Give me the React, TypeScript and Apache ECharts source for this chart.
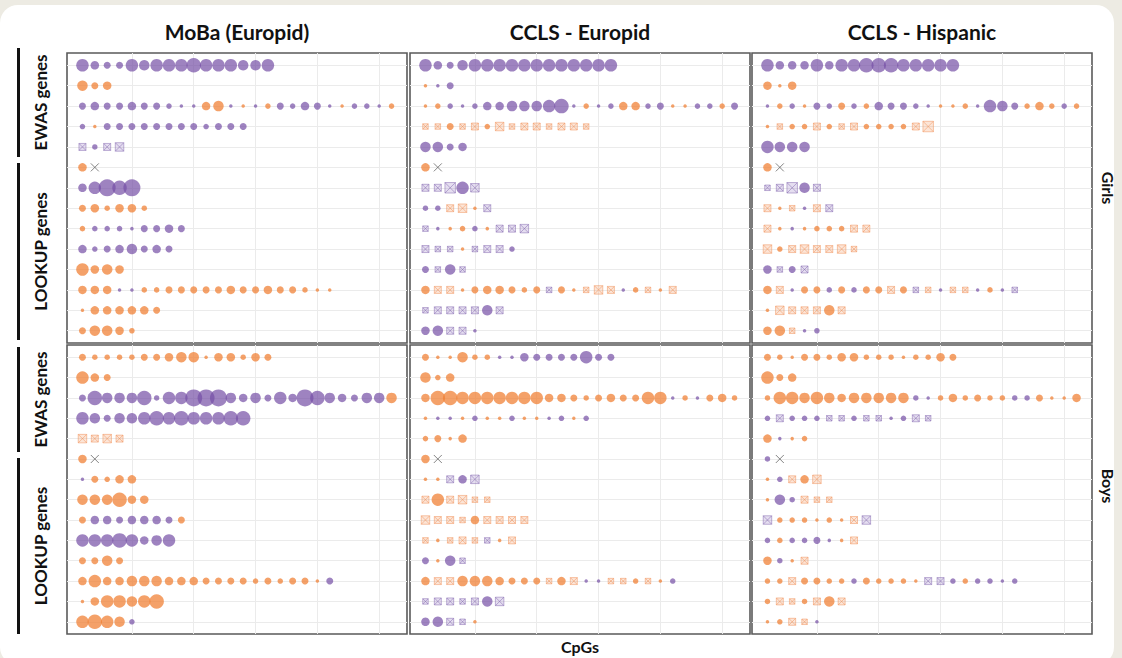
import React, { useEffect, useRef } from "react";
import * as echarts from "echarts";

// ---- Data ----
const columnTitles = ["MoBa (Europid)", "CCLS - Europid", "CCLS - Hispanic"];
const sexLabels = ["Girls", "Boys"];
const geneGroups = ["EWAS genes", "LOOKUP genes"];
const rowIds = [1, 2, 3, 4, 5, 6, 7, 8, 9, 10, 11, 12, 13, 14];
const xGridValues = [5, 10, 15, 20, 25];
// token: p = purple (sig), o = orange (sig), q = purple (n.s.), s = orange (n.s.), x = not available; digit = effect level
const girlsMoba = [
  "p6 p4 p3 p3 p6 p5 p6 p6 p6 p7 p6 p6 p6 p5 p5 p6",
  "o5 o3 o4",
  "p3 p4 p3 p3 p4 p3 p3 p2 p1 p1 o4 o5 p1 o1 p1 o2 p3 p2 p4 p3 p1 o1 p2 p2 p1 o2",
  "p2 o1 p3 p3 p3 p3 p3 p3 p3 p3 p2 p3 p3 p3",
  "q3 p2 q3 q4",
  "o4 x0",
  "p4 p6 p8 p7 p8",
  "o3 o4 o2 o4 o4 o2",
  "o2 p2 p2 p2 p1 p3 p3 p4 p3",
  "p4 p2 p3 p4 p5 p3 p4 p3",
  "o6 o4 o5 o4",
  "o4 o4 o4 p1 p1 o2 o2 o3 o3 o3 o3 o3 o4 o3 o3 o4 o3 o3 o2 o1 o1",
  "o1 o4 o4 o4 o4 o4 o3",
  "o3 o5 o5 o4 o2",
];
const girlsEuropid = [
  "p6 p4 p3 p5 p6 p6 p6 p6 p6 p6 p6 p6 p6 p6 p6 p6",
  "o1 p1 p3",
  "o1 o2 p2 p1 p2 p4 p4 p5 p5 p5 p6 p7 p1 o2 p1 p2 o4 o4 p2 p3 o1 o1 p2 p2 o2 p3",
  "s2 s2 o3 s2 s3 o2 s4 s2 s3 s3 s2 s3 s3 s2",
  "p5 p5 p3 p4",
  "o4 x0",
  "q3 q3 q5 p6 q4",
  "p2 p2 s3 s4 o1 q3",
  "q2 p1 o1 o2 p2 o1 q3 q3 q4",
  "q3 q2 q2 o1 q2 q3 q3 p2",
  "p3 q2 p5 q2",
  "o4 s3 s3 o1 o3 o4 o4 o3 o2 o3 q2 o3 o1 s2 s4 s3 p1 o2 s2 o1 s3",
  "q2 q3 q3 q3 q3 p5 q3",
  "p4 p5 q3 q3 p1",
];
const girlsHispanic = [
  "p6 p4 p4 p4 p6 p4 p6 p6 p7 p7 p7 p6 p6 p6 p6 p6",
  "o4 o1 o4",
  "p1 o2 p2 o1 p3 p2 o3 p2 o2 p4 p3 p3 p2 p1 o1 o1 o2 p1 p6 p5 p3 o2 o4 o2 p2 o2",
  "o1 s2 o2 o2 s3 o2 s2 s3 o2 o2 o2 o2 s3 s5",
  "p6 p5 p5 p5",
  "o4 x0",
  "q2 q3 q5 p5 q3",
  "s3 o1 s2 p1 s3 q3",
  "s3 o1 p1 o1 o2 o2 o2 s3 s3",
  "s4 o2 s3 s4 s3 s3 s4 s2",
  "p4 q2 p3 q3",
  "o4 s3 p1 o3 o3 p2 o3 p2 o3 o3 s3 o3 q2 s2 p1 s2 s2 p1 o2 p1 q2",
  "o1 s4 s3 s3 s3 o5 s3",
  "o4 o5 s2 p1 p2",
];
const boysMoba = [
  "o3 o2 o2 o2 o2 o3 o3 o4 o5 o5 o1 o4 o4 o2 o4 o3",
  "o6 o4 o3",
  "p3 p7 p5 p5 p5 p7 p2 p6 p6 p8 p8 p8 p5 p4 p5 p3 p6 p4 p8 p7 p5 p4 p3 p5 p5 o5",
  "p6 p5 p3 p5 p5 p6 p7 p6 p7 p6 p6 p6 p7 p7",
  "s4 s3 s4 s3",
  "o4 x0",
  "p1 o3 o2 o4 o4",
  "o5 o5 o5 o7 o4 o4",
  "o3 p4 p4 p3 p4 p4 p4 p3 o3",
  "p6 p6 p6 p7 p6 p4 p5 p6",
  "o3 o3 o5 o3",
  "o4 o6 o4 o4 o5 o5 o5 o4 o4 o4 o3 o3 o3 o3 o2 o3 o2 o3 o3 o1 p3",
  "o1 o4 o6 o6 o5 o6 o7",
  "o6 o7 o6 o5 p2",
];
const boysEuropid = [
  "o3 o1 o1 o5 o2 o2 p1 p1 p4 p3 p3 p3 p3 p6 p3 p3",
  "o5 o2 o4",
  "o4 o7 o7 o6 o6 o6 o6 o6 o6 o6 o4 o4 o3 o2 o3 o4 o3 o3 o6 o6 p1 o2 p1 o3 o4 o2",
  "o1 p1 p1 o1 p2 o1 o1 p2 o1 o1 p1 p2 o1 p2",
  "o2 o3 o1 o4",
  "o4 x0",
  "o1 o1 q3 p4 q4",
  "s3 o6 s3 s4 s2 s2",
  "s4 s3 s3 s2 o4 s3 s3 s3 s3",
  "s2 o1 s2 s3 s2 q2 o1 s3",
  "p3 o1 p5 q2",
  "o4 s3 s3 o5 o5 o5 o4 o3 o3 o3 s2 o4 s3 p1 p1 s2 s2 o2 s2 o1 p2",
  "q2 q3 q3 q2 q3 p5 q4",
  "p4 p5 q3 q2 o1",
];
const boysHispanic = [
  "o3 o2 o1 o3 o3 o2 o4 o4 o2 o2 o2 o1 o2 o2 o4 o3",
  "o6 o3 o4",
  "o2 o6 o6 o5 o6 o5 o4 o5 o5 o5 o5 o5 p2 p1 o2 o4 o2 o3 o2 o2 p2 p2 o3 o1 o1 o4",
  "p2 q3 p2 p2 p2 q2 q2 p2 q2 q2 p1 p2 q3 q2",
  "o4 p1 o1 o2",
  "p2 x0",
  "o1 p2 s3 o4 s4",
  "o1 p5 p2 s3 s2 s2",
  "q4 o2 o2 o2 o1 o2 o1 s3 q4",
  "p2 o2 p2 p2 p3 p1 o1 s3",
  "o4 p2 o1 s3",
  "o2 o2 s3 o3 o3 o2 o2 p2 o3 o2 o2 o2 o1 q3 q3 p2 o2 p2 p2 p1 p2",
  "o2 s3 s2 o2 s3 o5 s3",
  "o1 o2 s3 s2 p1",
];
const panels = [girlsMoba, girlsEuropid, girlsHispanic, boysMoba, boysEuropid, boysHispanic];

// ---- Styling ----
const DIAM = [0, 3.5, 5.5, 7, 8.5, 10.5, 12.5, 14.5, 17];
const PURPLE = "rgba(118, 80, 166, 0.88)";
const ORANGE = "rgba(240, 128, 52, 0.92)";
const SQUARE = "path://M0,0H10V10H0Z M0,0L10,10 M10,0L0,10";
const CROSS = "path://M0,0L10,10M10,0L0,10";

const GRID_LEFT = [67, 410, 752];
const GRID_W = 340;
const GRID_TOP = [53, 345];
const GRID_H = [290, 289];

function buildOption() {
  const grid: any[] = [];
  const xAxis: any[] = [];
  const yAxis: any[] = [];
  const series: any[] = [];
  panels.forEach((rows, g) => {
    const col = g % 3;
    const r = Math.floor(g / 3);
    grid.push({
      left: GRID_LEFT[col],
      top: GRID_TOP[r],
      width: GRID_W,
      height: GRID_H[r],
      show: true,
      borderColor: "#5a5a5a",
      borderWidth: 1.6,
      backgroundColor: "#fff",
    });
    xAxis.push({
      type: "value",
      gridIndex: g,
      min: -0.25,
      max: 27.25,
      axisLine: { show: false },
      axisTick: { show: false },
      axisLabel: { show: false },
      splitLine: { show: false },
    });
    yAxis.push({
      type: "value",
      gridIndex: g,
      min: 0.4,
      max: 14.6,
      inverse: true,
      axisLine: { show: false },
      axisTick: {
        show: col === 0,
        customValues: rowIds,
        length: 3,
        lineStyle: { color: "#333", width: 1 },
      },
      axisLabel: { show: false },
      splitLine: { show: false },
    });
    const pts: Record<string, number[][]> = { p: [], o: [], q: [], s: [], x: [] };
    rows.forEach((row, ri) => {
      row.split(" ").forEach((tok, i) => {
        pts[tok[0]].push([i + 1, rowIds[ri], Number(tok.slice(1))]);
      });
    });
    series.push({
      type: "line",
      xAxisIndex: g,
      yAxisIndex: g,
      data: [],
      z: 1,
      silent: true,
      markLine: {
        silent: true,
        z: 1,
        symbol: ["none", "none"],
        label: { show: false },
        lineStyle: { color: "#ebebeb", width: 1, type: "solid" },
        data: [
          ...rowIds.map((v) => ({ yAxis: v })),
          ...xGridValues.map((v) => ({ xAxis: v })),
        ],
      },
    });
    const common = { type: "scatter", xAxisIndex: g, yAxisIndex: g, silent: true, z: 3 };
    series.push({
      ...common,
      data: pts.s,
      symbol: SQUARE,
      symbolSize: (v: number[]) => DIAM[v[2]],
      itemStyle: { color: "rgba(246, 160, 110, 0.35)", borderColor: "rgba(240, 140, 80, 0.75)", borderWidth: 0.8 },
    });
    series.push({
      ...common,
      data: pts.q,
      symbol: SQUARE,
      symbolSize: (v: number[]) => DIAM[v[2]],
      itemStyle: { color: "rgba(160, 135, 200, 0.35)", borderColor: "rgba(125, 95, 170, 0.75)", borderWidth: 0.8 },
    });
    series.push({
      ...common,
      data: pts.o,
      symbol: "circle",
      symbolSize: (v: number[]) => DIAM[v[2]],
      itemStyle: { color: ORANGE },
    });
    series.push({
      ...common,
      data: pts.p,
      symbol: "circle",
      symbolSize: (v: number[]) => DIAM[v[2]],
      itemStyle: { color: PURPLE },
    });
    series.push({
      ...common,
      data: pts.x,
      symbol: CROSS,
      symbolSize: 8,
      itemStyle: { color: "none", borderColor: "#666", borderWidth: 1 },
    });
  });

  const bold = { fontFamily: "Lato, 'Open Sans', sans-serif", fontWeight: "bold", fill: "#111" };
  const graphic: any[] = [
    { type: "rect", z: -10, shape: { x: 0, y: 5, width: 1114, height: 660, r: 18 }, style: { fill: "#ffffff" } },
  ];
  columnTitles.forEach((t, c) => {
    graphic.push({
      type: "text",
      x: GRID_LEFT[c] + GRID_W / 2,
      y: 31,
      style: { ...bold, text: t, fontSize: 21, textAlign: "center", textVerticalAlign: "middle" },
    });
  });
  sexLabels.forEach((t, r) => {
    graphic.push({
      type: "text",
      x: 1108,
      y: r === 0 ? 188 : 486,
      rotation: -Math.PI / 2,
      style: { ...bold, text: t, fontSize: 16, textAlign: "center", textVerticalAlign: "middle" },
    });
  });
  const groupSpans = [
    [[48, 157], [163, 340]],
    [[347, 452], [458, 634]],
  ];
  groupSpans.forEach((spans) => {
    spans.forEach((sp, gi) => {
      graphic.push({
        type: "rect",
        shape: { x: 17, y: sp[0], width: 3, height: sp[1] - sp[0] },
        style: { fill: "#111" },
      });
      graphic.push({
        type: "text",
        x: 40,
        y: (sp[0] + sp[1]) / 2,
        rotation: Math.PI / 2,
        style: { ...bold, text: geneGroups[gi], fontSize: 17, textAlign: "center", textVerticalAlign: "middle" },
      });
    });
  });
  graphic.push({
    type: "text",
    x: 580,
    y: 646,
    style: { ...bold, text: "CpGs", fontSize: 16, textAlign: "center", textVerticalAlign: "middle" },
  });

  return {
    animation: false,
    backgroundColor: "#edebe3",
    grid,
    xAxis,
    yAxis,
    series,
    graphic,
  };
}

export default function App() {
  const ref = useRef<HTMLDivElement>(null);
  useEffect(() => {
    if (!ref.current) return;
    const chart = echarts.init(ref.current, undefined, { renderer: "svg" });
    chart.setOption(buildOption() as any);
    return () => chart.dispose();
  }, []);
  return (
    <div style={{ position: "fixed", left: 0, top: 0, width: 1122, height: 658 }}>
      <div ref={ref} style={{ width: 1122, height: 658 }} />
    </div>
  );
}
